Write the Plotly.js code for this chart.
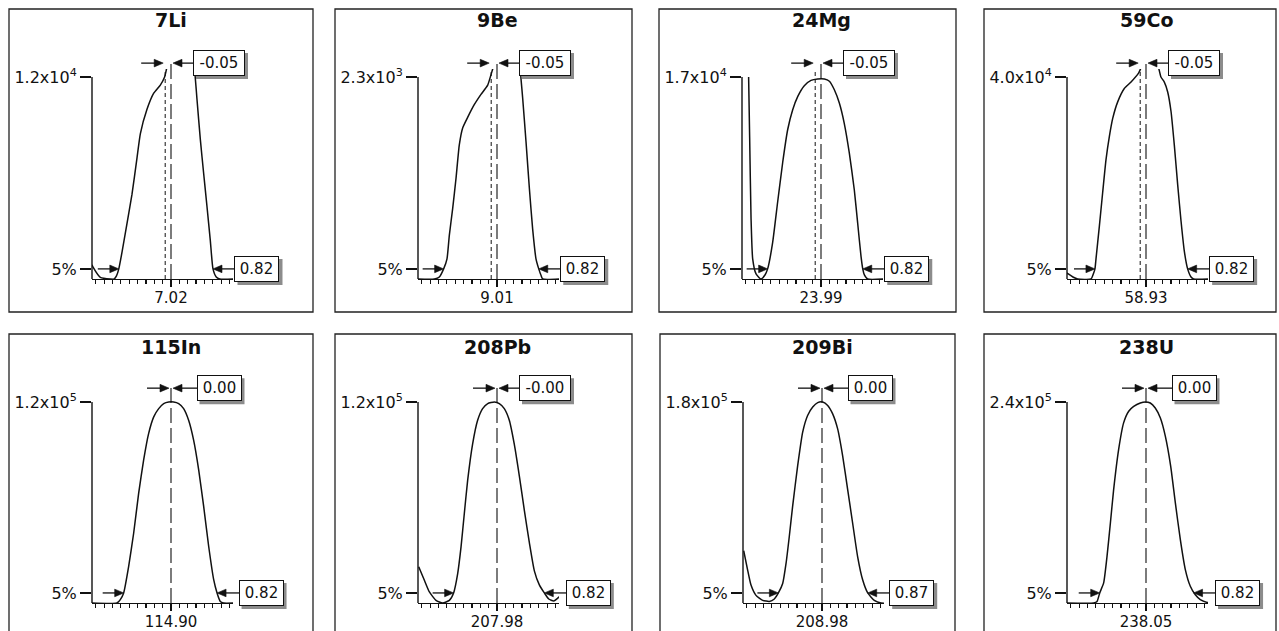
<!DOCTYPE html>
<html><head><meta charset="utf-8">
<script src="https://cdn.plot.ly/plotly-3.0.1.min.js"></script>
<style>html,body{margin:0;padding:0;background:#fff}#chart{width:1279px;height:631px}</style>
</head><body><div id="chart"></div>
<script>
// ---------- data ----------
const isotopes = ['7Li','9Be','24Mg','59Co','115In','208Pb','209Bi','238U'];
const nominalMass = [7.02, 9.01, 23.99, 58.93, 114.90, 207.98, 208.98, 238.05];
const massLabels = ['7.02','9.01','23.99','58.93','114.90','207.98','208.98','238.05'];
const peakOffset = [-0.05, -0.05, -0.05, -0.05, 0.00, -0.00, 0.00, 0.00];
const offsetLabels = ['-0.05','-0.05','-0.05','-0.05','0.00','-0.00','0.00','0.00'];
const widthLabels = ['0.82','0.82','0.82','0.82','0.82','0.82','0.87','0.82'];
const scaleMax = [1.2e4, 2.3e3, 1.7e4, 4.0e4, 1.2e5, 1.2e5, 1.8e5, 2.4e5];
const scaleLabels = ['1.2x10<sup>4</sup>','2.3x10<sup>3</sup>','1.7x10<sup>4</sup>','4.0x10<sup>4</sup>',
                     '1.2x10<sup>5</sup>','1.2x10<sup>5</sup>','1.8x10<sup>5</sup>','2.4x10<sup>5</sup>'];
const lowEdge  = [6.57, 8.55, 23.53, 58.49, 114.492, 207.606, 208.604, 237.651];
const highEdge = [7.382, 9.37, 24.35, 59.289, 115.297, 208.388, 209.374, 238.46];

const li7Mass = [6.339,6.348,6.411,6.497,6.53,6.55,6.57,6.60,6.63,6.684,6.727,6.756,6.813,6.871,6.928,6.965,6.99,7.02,7.12,7.21,7.23,7.244,7.273,7.302,7.33,7.359,7.382,7.41,7.44,7.56];
const li7Counts = [840,700,96,0,0,180,600,1680,2880,5040,7200,8640,10080,11040,11520,12000,12720,13200,13440,13080,11880,10680,8280,6240,4320,2280,600,120,0,0];

const be9Mass = [8.329,8.47,8.513,8.55,8.579,8.599,8.628,8.657,8.685,8.714,8.757,8.815,8.872,8.93,8.973,9.01,9.11,9.20,9.217,9.231,9.26,9.289,9.317,9.346,9.37,9.39,9.404,9.55];
const be9Counts = [0,0,23,115,230,497,805,1150,1527,1720,1840,1987,2102,2208,2392,2530,2576,2484,2277,2063,1566,1033,573,230,115,39,0,0];

const mg24Mass = [23.366,23.375,23.387,23.401,23.43,23.473,23.507,23.53,23.573,23.616,23.66,23.703,23.746,23.79,23.846,23.904,23.961,24.019,24.062,24.105,24.148,24.19,24.234,24.277,24.306,24.335,24.35,24.364,24.392,24.53];
const mg24Counts = [17000,11900,5100,1700,425,0,340,850,3060,6460,9826,12580,14246,15368,16269,16711,16830,16830,16643,15929,14807,13124,10608,7514,4709,1904,850,340,0,0];

const co59Mass = [58.249,58.26,58.30,58.341,58.456,58.479,58.49,58.499,58.528,58.556,58.585,58.614,58.643,58.686,58.743,58.801,58.867,58.90,58.97,59.03,59.059,59.088,59.117,59.146,59.174,59.203,59.232,59.26,59.289,59.318,59.34,59.47];
const co59Counts = [1200,1000,400,0,0,1200,2000,4000,10480,17040,23600,28200,31800,35080,37720,39000,40800,42400,43600,42400,40000,39000,37040,33120,26560,18680,11480,5560,2000,400,0,0];

const in115Mass = [114.219,114.434,114.463,114.492,114.535,114.578,114.621,114.664,114.707,114.751,114.794,114.837,114.88,114.923,114.966,115.009,115.052,115.095,115.139,115.182,115.225,115.268,115.297,115.325,115.354,115.44];
const in115Counts = [0,0,2040,6000,21840,41640,65400,85320,101160,111120,116040,119040,120000,120000,119040,116040,109080,97200,79320,57480,33720,13920,6000,960,0,0];

const pb208Mass = [207.305,207.354,207.397,207.454,207.512,207.569,207.606,207.641,207.67,207.698,207.727,207.77,207.813,207.856,207.90,207.957,208.0,208.043,208.086,208.129,208.173,208.216,208.259,208.302,208.345,208.388,208.426,208.47,208.532,208.575,208.618];
const pb208Counts = [21600,13560,6600,1560,0,1560,6000,17520,33480,53280,73200,95040,109080,116040,119040,120000,119040,116040,109080,94800,75600,55200,36000,19200,10800,6000,2400,1200,4800,12000,20400];

const bi209Mass = [208.305,208.339,208.368,208.411,208.469,208.526,208.569,208.604,208.641,208.67,208.698,208.727,208.77,208.813,208.856,208.90,208.943,208.986,209.029,209.072,209.115,209.158,209.201,209.244,209.287,209.331,209.374,209.431,209.489,209.58];
const bi209Counts = [46800,29520,16020,6840,2340,1440,3600,9000,17460,35460,59580,86760,122760,152820,167940,175500,179460,180000,176940,169380,155880,131760,101700,71640,41580,20520,9000,2340,0,0];

const u238Mass = [237.369,237.599,237.628,237.651,237.685,237.714,237.743,237.771,237.814,237.857,237.901,237.944,238.001,238.044,238.087,238.13,238.174,238.217,238.263,238.303,238.346,238.389,238.432,238.475,238.518,238.576,238.633];
const u238Counts = [0,0,1920,12000,24000,55680,95520,135360,183120,215040,228960,234720,238800,240000,238800,232800,220800,198960,163200,119520,75600,39840,19920,9840,4080,720,0];

const curves = [[li7Mass,li7Counts],[be9Mass,be9Counts],[mg24Mass,mg24Counts],[co59Mass,co59Counts],
                [in115Mass,in115Counts],[pb208Mass,pb208Counts],[bi209Mass,bi209Counts],[u238Mass,u238Counts]];

// ---------- layout geometry (pixels) ----------
const W = 1279, H = 631, PX = 116;           // px per amu
const axisLeftPx = [92, 418, 742, 1067, 92, 418, 743, 1067];
const frameX = [[9,313],[335,632],[659,956],[984,1276],[9,313],[335,632],[660,955],[984,1276]];
const FONT = 'DejaVu Sans, Verdana, sans-serif';
const INK = '#111';
const SHADE = '#8c8c8c';

const traces = [], shapes = [], annotations = [];
const layout = {
  width: W, height: H, margin: {l:0, r:0, t:0, b:0}, showlegend: false,
  paper_bgcolor: '#fff', plot_bgcolor: 'rgba(0,0,0,0)',
  font: {family: FONT, color: INK, size: 15}
};

// arrow as pixel-sized shapes anchored at a point given in axis-domain fractions (not clipped)
function addArrow(xd, yd, fx, fy, tailPx, tipPx, dir) {
  const common = {xref: xd, yref: yd, xsizemode: 'pixel', ysizemode: 'pixel',
                  xanchor: fx, yanchor: fy, layer: 'above'};
  shapes.push(Object.assign({type: 'path', path: 'M' + tailPx + ',0 L' + (tipPx - dir * 6) + ',0',
    line: {color: INK, width: 1.3}}, common));
  shapes.push(Object.assign({type: 'path',
    path: 'M' + tipPx + ',0 L' + (tipPx - dir * 9) + ',3.8 L' + (tipPx - dir * 9) + ',-3.8 Z',
    fillcolor: INK, line: {color: INK, width: 0.6}}, common));
}

// boxed label with a grey drop shadow; shiftPx = horizontal offset of the box centre
function addBox(xd, yd, fx, fy, shiftPx, label) {
  const inner = label.length > 4 ? 42 : 35, pad = 4;
  const outer = inner + 2 * pad + 2, outerH = 16 + 2 * pad + 2;
  shapes.push({type: 'rect', xref: xd, yref: yd, xsizemode: 'pixel', ysizemode: 'pixel',
    xanchor: fx, yanchor: fy, layer: 'above',
    x0: shiftPx - outer / 2 + 3, x1: shiftPx + outer / 2 + 3,
    y0: -outerH / 2 - 3, y1: outerH / 2 - 3,
    fillcolor: SHADE, line: {width: 0}});
  annotations.push({xref: xd, yref: yd, x: fx, y: fy, showarrow: false,
    xanchor: 'center', yanchor: 'middle', xshift: shiftPx, width: inner, height: 16,
    text: label, font: {family: FONT, size: 15, color: INK},
    bgcolor: '#fff', bordercolor: INK, borderwidth: 1, borderpad: pad});
}

for (let i = 0; i < 8; i++) {
  const n = i + 1, sfx = n === 1 ? '' : String(n);
  const xa = 'x' + sfx, ya = 'y' + sfx;
  const xd = xa + ' domain', yd = ya + ' domain';
  const topRow = i < 4;
  const axisY = topRow ? 279 : 603, clipY = topRow ? 69 : 394, tickSpan = topRow ? 202 : 201;
  const titleY = topRow ? 20 : 347;
  const c = nominalMass[i];
  const left = axisLeftPx[i];
  const top = scaleMax[i];
  const xr = [c - 79 / PX, c + 62 / PX];
  const yr = [0, top * (axisY - clipY) / tickSpan];
  const fx = v => (v - xr[0]) / (xr[1] - xr[0]);
  const fy = v => (v - yr[0]) / (yr[1] - yr[0]);

  layout['xaxis' + sfx] = {
    domain: [left / W, (left + 141) / W], anchor: ya,
    range: xr, fixedrange: true,
    showline: true, linecolor: INK, linewidth: 1.4,
    showgrid: false, zeroline: false,
    ticks: 'outside', tickmode: 'array', tickvals: [c], ticktext: [massLabels[i]],
    ticklen: 7, tickwidth: 1.3, tickcolor: INK, ticklabelstandoff: -2,
    tickfont: {family: FONT, size: 15, color: INK},
    minor: {tickmode: 'linear', tick0: c, dtick: 0.072, ticks: 'outside', ticklen: 4,
            tickwidth: 1.2, tickcolor: INK, showgrid: false}
  };
  layout['yaxis' + sfx] = {
    domain: [1 - axisY / H, 1 - clipY / H], anchor: xa,
    range: yr, fixedrange: true,
    showline: false, showgrid: false, zeroline: false,
    ticks: 'outside', tickmode: 'array', tickvals: [0.05 * top, top],
    ticktext: ['5%', scaleLabels[i]], ticklen: 11, tickwidth: 1.3, tickcolor: INK,
    tickfont: {family: FONT, size: 16, color: INK}
  };

  traces.push({
    type: 'scatter', mode: 'lines', x: curves[i][0], y: curves[i][1],
    xaxis: xa, yaxis: ya, hoverinfo: 'skip',
    line: {color: INK, width: 1.5, shape: 'spline', smoothing: 0.5}
  });

  // panel frame
  shapes.push({type: 'rect', xref: 'paper', yref: 'paper',
    x0: frameX[i][0] / W, x1: frameX[i][1] / W,
    y0: topRow ? 1 - 312 / H : -0.02, y1: topRow ? 1 - 9 / H : 1 - 334 / H,
    line: {color: '#222', width: 1.3}});
  // y axis line from 0 up to top tick
  shapes.push({type: 'line', xref: xd, x0: 0, x1: 0, yref: ya, y0: 0, y1: top,
    line: {color: INK, width: 1.4}});
  // nominal mass line (long dash)
  shapes.push({type: 'line', xref: xa, x0: c, x1: c, yref: yd, y0: 0, y1: 1.03,
    line: {color: INK, width: 1.1, dash: '15px,5px'}});
  // measured peak line (short dash)
  if (peakOffset[i] !== 0) {
    shapes.push({type: 'line', xref: xa, x0: c + peakOffset[i], x1: c + peakOffset[i],
      yref: yd, y0: 0, y1: 1.0,
      line: {color: INK, width: 1, dash: '4px,3px'}});
  }

  // title
  annotations.push({xref: xa, x: c, yref: 'paper', y: 1 - titleY / H, showarrow: false,
    xanchor: 'center', yanchor: 'middle',
    text: '<b>' + isotopes[i] + '</b>', font: {family: FONT, size: 19, color: INK}});

  const lvl = 1.028;
  // top arrows pointing at measured peak and nominal mass, plus offset box
  addArrow(xd, yd, fx(c + peakOffset[i]), lvl, -24, -2, 1);
  addArrow(xd, yd, fx(c), lvl, 30, 2, -1);
  addBox(xd, yd, fx(c), lvl, 48, offsetLabels[i]);

  // 5% width arrows and width box
  addArrow(xd, yd, fx(lowEdge[i]), fy(0.05 * top), -21, 0, 1);
  addArrow(xd, yd, fx(highEdge[i]), fy(0.05 * top), 30, 0, -1);
  addBox(xd, yd, fx(highEdge[i]), fy(0.05 * top), 44, widthLabels[i]);
}

layout.shapes = shapes;
layout.annotations = annotations;
Plotly.newPlot('chart', traces, layout, {staticPlot: true, displayModeBar: false});
</script></body></html>
